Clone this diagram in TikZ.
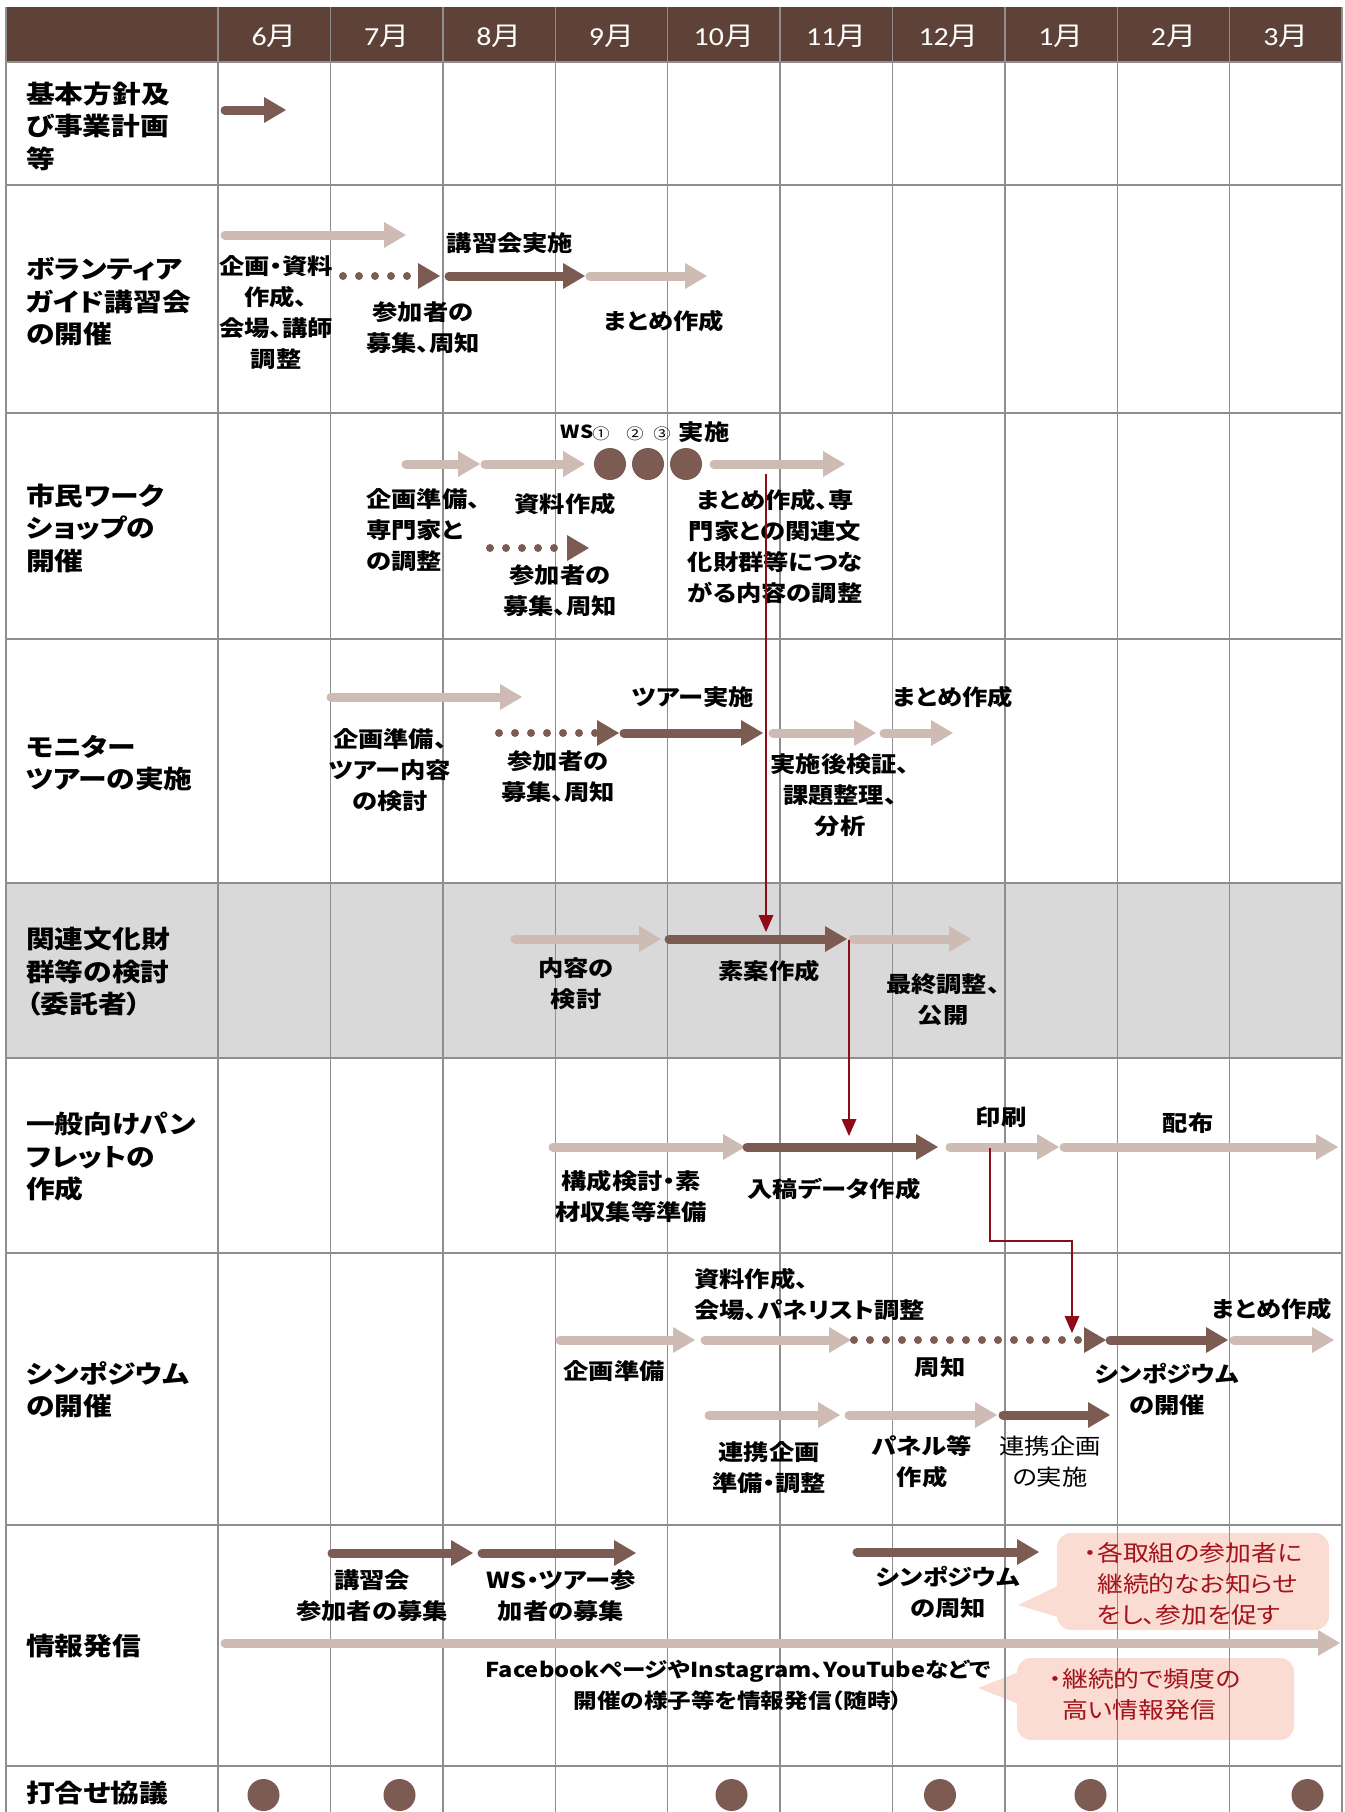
\documentclass[tikz,border=0pt]{standalone}
\usepackage{fontspec}
\setmainfont{Noto Sans CJK JP}[FakeStretch=1.15,RawFeature=+palt]
\newfontfamily\digitfont{Carlito}[FakeStretch=1.15]
\usetikzlibrary{arrows.meta}

\definecolor{headbrown}{HTML}{5E4238}
\definecolor{barbrown}{HTML}{7C5C52}
\definecolor{barlite}{HTML}{CDBBB4}
\definecolor{gridgrey}{HTML}{8E8E8E}
\definecolor{rowgrey}{HTML}{D9D9D9}
\definecolor{linkred}{HTML}{8E0B17}
\definecolor{notepink}{HTML}{FBDCD2}
\definecolor{notered}{HTML}{A3131D}

\newcommand{\mon}[1]{{\digitfont #1}月}

\tikzset{
  grid line/.style={draw=gridgrey,line width=1.4pt},
  bar/.style={draw=barbrown,line width=9pt,line cap=round,-{Triangle[length=22pt,width=26pt,line width=0pt]}},
  lite/.style={bar,draw=barlite},
  dotbar/.style={draw=barbrown,line width=8pt,line cap=round,dash pattern=on 0pt off 16pt,-{Triangle[length=22pt,width=26pt,line width=0pt]}},
  link/.style={draw=linkred,line width=2.5pt,-{Triangle[length=17pt,width=15pt,line width=0pt]}},
  meet/.style={circle,fill=barbrown,minimum size=32pt,inner sep=0pt},
  lbl/.style={font=\fontsize{22}{31}\selectfont\bfseries,align=center,inner sep=0pt},
  rowlbl/.style={font=\fontsize{25}{32.5}\selectfont\bfseries,align=left,anchor=west,inner sep=0pt},
  mon/.style={font=\fontsize{26}{30}\selectfont,text=white,inner sep=0pt},
  note/.style={fill=notepink,rounded corners=14pt},
  notetext/.style={font=\fontsize{22.5}{31}\selectfont,text=notered,align=left,anchor=west,inner sep=0pt},
}

\begin{document}
\begin{tikzpicture}[x=1pt,y=-1pt]
  \useasboundingbox (0,0) rectangle (1344,1812);

  \fill[headbrown] (6,7) rectangle (1342,62);
  \fill[rowgrey] (6,883) rectangle (1342,1058);

  \path[note] (1057,1533) rectangle (1329,1630);
  \fill[notepink] (1018,1605) -- (1064,1583) -- (1064,1619) -- cycle;
  \path[note] (1017,1658) rectangle (1294,1740);
  \fill[notepink] (978,1688) -- (1024,1670) -- (1024,1706) -- cycle;

  \foreach \y in {62,185,413,639,883,1058,1253,1525,1766}
    \draw[grid line] (6,\y) -- (1342,\y);
  \draw[grid line] (6,7) -- (6,1812);
  \foreach \i in {0,...,10}
    \draw[grid line] ({218+112.4*\i},7) -- ({218+112.4*\i},1812);

  \foreach \m [count=\i from 0] in {6,...,12,1,2,3}
    \node[mon] (mon-\m) at ({274.2+112.4*\i},36) {\mon{\m}};

  \node[rowlbl] (row-plan)	at (26,126)	{基本方針及\\び事業計画\\等};
  \node[rowlbl] (row-guide)	at (26,302)	{ボランティア\\ガイド講習会\\の開催};
  \node[rowlbl] (row-ws)	at (26,528)	{市民ワーク\\ショップの\\開催};
  \node[rowlbl] (row-tour)	at (26,763)	{モニター\\ツアーの実施};
  \node[rowlbl] (row-study)	at (26,972)	{関連文化財\\群等の検討\\（委託者）};
  \node[rowlbl] (row-leaf)	at (26,1157)	{一般向けパン\\フレットの\\作成};
  \node[rowlbl] (row-sympo)	at (26,1390)	{シンポジウム\\の開催};
  \node[rowlbl] (row-info)	at (26,1646)	{情報発信};
  \node[rowlbl] (row-meet)	at (26,1793)	{打合せ協議};

  \draw[bar]  (225,110) -- (286,110);

  \draw[lite] (225,235) -- (406,235);
  \draw[dotbar] (343,276) -- (440,276);
  \draw[bar]  (449,276) -- (585,276);
  \draw[lite] (590,276) -- (707,276);

  \node[lbl] (guide-plan)	at (276,313)	{企画・資料\\作成、\\会場、講師\\調整};
  \node[lbl] (guide-run)	at (510,243)	{講習会実施};
  \node[lbl] (guide-call)	at (423,328)	{参加者の\\募集、周知};
  \node[lbl] (guide-sum)	at (664,321)	{まとめ作成};

  \draw[lite] (406,464) -- (480,464);
  \draw[lite] (485,464) -- (585,464);
  \node[meet] (ws-c1) at (610,464) {};
  \node[meet] (ws-c2) at (648,464) {};
  \node[meet] (ws-c3) at (686,464) {};
  \draw[lite] (714,464) -- (845,464);
  \draw[dotbar] (490,548) -- (589,548);

  \node[lbl,font=\fontsize{18}{22}\selectfont\bfseries] (ws-tag)	at (577,432)	{WS};
  \node[lbl,font=\fontsize{15}{18}\selectfont] (ws-n1)	at (601,434)	{①};
  \node[lbl,font=\fontsize{15}{18}\selectfont] (ws-n2)	at (635,434)	{②};
  \node[lbl,font=\fontsize{15}{18}\selectfont] (ws-n3)	at (662,434)	{③};
  \node[lbl] (ws-run)	at (704,432)	{実施};
  \node[lbl,align=left,anchor=west] (ws-plan)	at (366,530)	{企画準備、\\専門家と\\の調整};
  \node[lbl] (ws-doc)	at (565,504)	{資料作成};
  \node[lbl] (ws-call)	at (560,591)	{参加者の\\募集、周知};
  \node[lbl] (ws-sum)	at (775,546)	{まとめ作成、専\\門家との関連文\\化財群等につな\\がる内容の調整};

  \draw[lite] (331,697) -- (522,697);
  \draw[dotbar] (499,733) -- (619,733);
  \draw[bar]  (624,733) -- (763,733);
  \draw[lite] (773,733) -- (876,733);
  \draw[lite] (884,733) -- (953,733);

  \node[lbl] (tour-plan)	at (390,770)	{企画準備、\\ツアー内容\\の検討};
  \node[lbl] (tour-call)	at (558,777)	{参加者の\\募集、周知};
  \node[lbl] (tour-run)	at (693,697)	{ツアー実施};
  \node[lbl] (tour-sum)	at (953,697)	{まとめ作成};
  \node[lbl] (tour-check)	at (840,795)	{実施後検証、\\課題整理、\\分析};

  \draw[lite] (515,939) -- (661,939);
  \draw[bar]  (669,939) -- (847,939);
  \draw[lite] (853,939) -- (971,939);

  \node[lbl] (study-scope)	at (576,984)	{内容の\\検討};
  \node[lbl] (study-draft)	at (769,971)	{素案作成};
  \node[lbl] (study-pub)	at (943,1000)	{最終調整、\\公開};

  \draw[lite] (553,1147) -- (745,1147);
  \draw[bar]  (747,1147) -- (938,1147);
  \draw[lite] (950,1147) -- (1059,1147);
  \draw[lite] (1064,1147) -- (1338,1147);

  \node[lbl] (leaf-plan)	at (631,1196)	{構成検討・素\\材収集等準備};
  \node[lbl] (leaf-data)	at (834,1189)	{入稿データ作成};
  \node[lbl] (leaf-print)	at (1001,1117)	{印刷};
  \node[lbl] (leaf-hand)	at (1188,1123)	{配布};

  \draw[lite] (560,1340) -- (695,1340);
  \draw[lite] (705,1340) -- (851,1340);
  \draw[dotbar] (854,1340) -- (1106,1340);
  \draw[bar]  (1110,1340) -- (1228,1340);
  \draw[lite] (1234,1340) -- (1334,1340);
  \draw[lite] (709,1415) -- (840,1415);
  \draw[lite] (849,1415) -- (997,1415);
  \draw[bar]  (1003,1415) -- (1110,1415);

  \node[lbl] (sympo-plan)	at (614,1371)	{企画準備};
  \node[lbl,align=left,anchor=west] (sympo-doc)	at (694,1294)	{資料作成、\\会場、パネリスト調整};
  \node[lbl] (sympo-call)	at (940,1367)	{周知};
  \node[lbl] (sympo-sum)	at (1272,1309)	{まとめ作成};
  \node[lbl] (sympo-run)	at (1167,1389)	{シンポジウム\\の開催};
  \node[lbl] (sympo-co)	at (769,1468)	{連携企画\\準備・調整};
  \node[lbl] (sympo-panel)	at (922,1462)	{パネル等\\作成};
  \node[lbl,font=\fontsize{22}{31}\selectfont] (sympo-corun)	at (1050,1462)	{連携企画\\の実施};

  \draw[bar]  (332,1553) -- (473,1553);
  \draw[bar]  (482,1553) -- (636,1553);
  \draw[bar]  (857,1552) -- (1039,1552);
  \draw[lite] (225,1643) -- (1340,1643);

  \node[lbl] (info-guide)	at (372,1596)	{講習会\\参加者の募集};
  \node[lbl] (info-ws)	at (561,1596)	{WS・ツアー参\\加者の募集};
  \node[lbl] (info-sympo)	at (948,1592)	{シンポジウム\\の周知};
  \node[lbl,font=\fontsize{20.5}{31}\selectfont\bfseries] (info-web)	at (738,1685)	{FacebookページやInstagram、YouTubeなどで\\開催の様子等を情報発信（随時）};

  \node[notetext] (note-join)	at (1084,1584)	{・各取組の参加者に\\\hphantom{・}継続的なお知らせ\\\hphantom{・}をし、参加を促す};
  \node[notetext] (note-often)	at (1049,1694)	{・継続的で頻度の\\\hphantom{・}高い情報発信};

  \foreach \x [count=\k] in {263.5,399.5,731.5,940,1090.5,1307.5}
    \node[meet] (meet-\k) at (\x,1795) {};

  \coordinate (ws-done)	at (766,474);
  \coordinate (draft-in)	at (766,932);
  \coordinate (draft-out)	at (849,940);
  \coordinate (data-in)	at (849,1136);
  \coordinate (print-out)	at (990,1148);
  \coordinate (notice-in)	at (1072,1333);

  \draw[link] (ws-done) -- (draft-in);
  \draw[link] (draft-out) -- (data-in);
  \draw[link] (print-out) -- ++(0,93) -| (notice-in);
\end{tikzpicture}
\end{document}
